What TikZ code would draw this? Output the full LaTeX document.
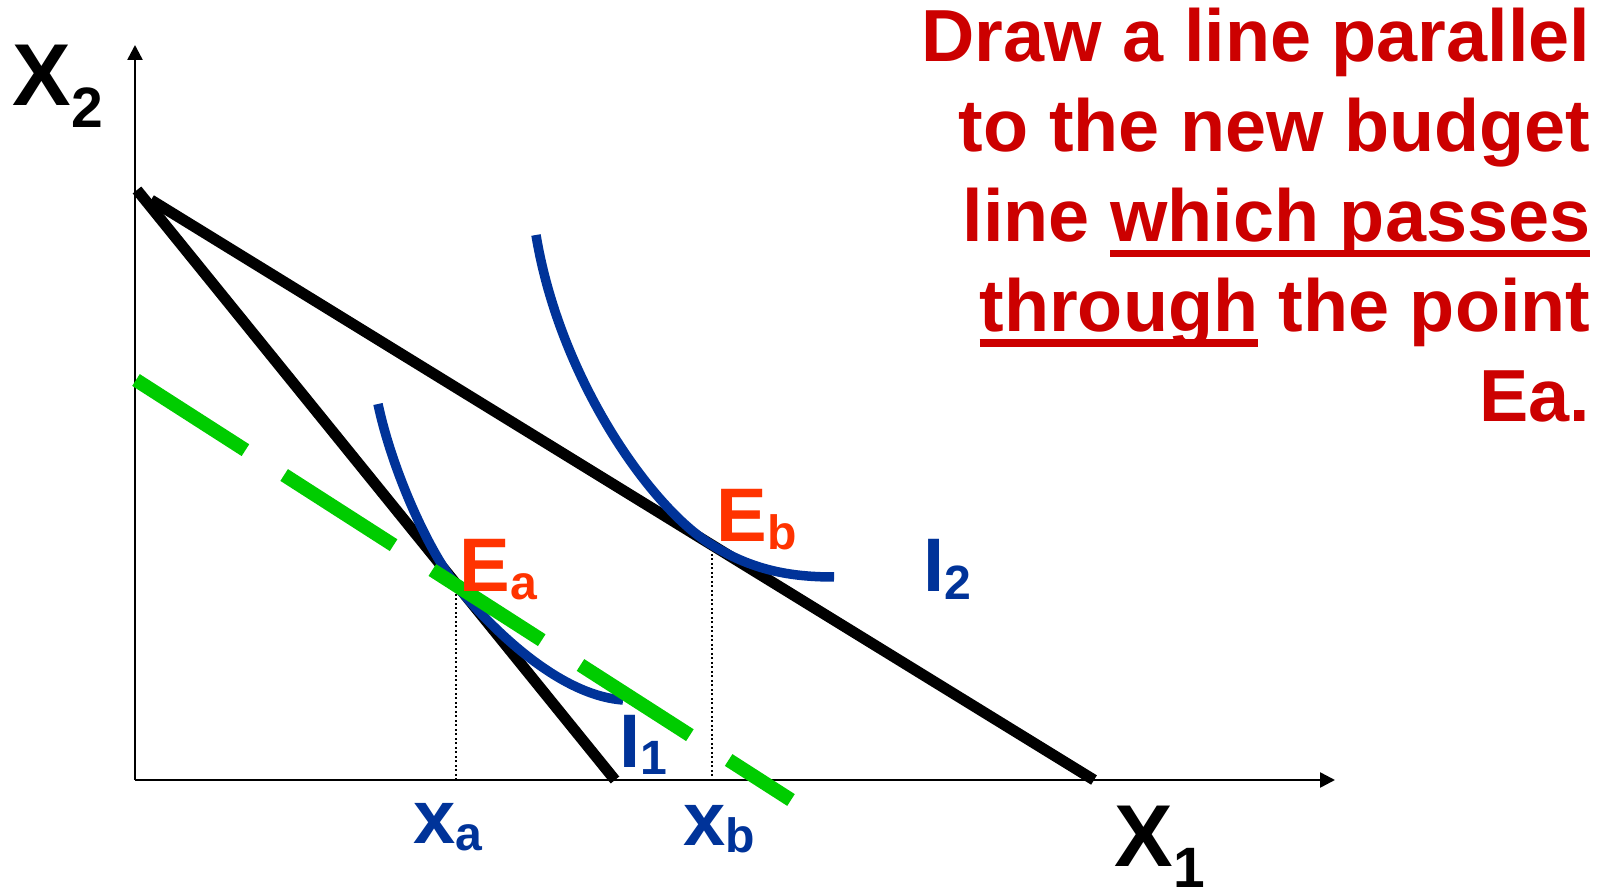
\documentclass[tikz,border=0pt]{standalone}
\usepackage{fontspec}
\setmainfont{Liberation Sans}
\usetikzlibrary{arrows.meta, positioning, calc}
\definecolor{titlered}{HTML}{CC0000}
\definecolor{pointred}{HTML}{FF3300}
\definecolor{curveblue}{HTML}{003399}
\definecolor{guidegreen}{HTML}{00CC00}
\newcommand{\axislabel}[2]{{\fontsize{25pt}{25pt}\selectfont #1}\raisebox{-6pt}{\fontsize{16.2pt}{16pt}\selectfont #2}}
\newcommand{\pointlabel}[2]{{\fontsize{21.6pt}{22pt}\selectfont #1}\raisebox{-2pt}{\fontsize{13.7pt}{14pt}\selectfont #2}}
\newcommand{\ulword}[1]{\setbox0\hbox{#1}\rlap{\rule[-4.4pt]{\wd0}{2.1pt}}\box0\relax}

\begin{document}
\begin{tikzpicture}[x=0.1mm, y=-0.1mm, font=\bfseries,
  axis/.style={line width=0.7pt, -{Triangle[length=1.5mm, width=1.5mm]}},
  budget/.style={line width=1.1mm},
  indiff/.style={curveblue, line width=0.95mm},
  guide/.style={guidegreen, line width=1.4mm, dash pattern=on 13mm off 4.6mm},
  drop/.style={line width=0.2mm, dash pattern=on 0.2mm off 0.25mm},
  lbl/.style={inner sep=0pt, anchor=base west},
  titleline/.style={titlered, inner sep=0pt, anchor=base east,
                    font=\bfseries\fontsize{21pt}{25.6pt}\selectfont}]
\useasboundingbox (0,0) rectangle (1601,892);
\coordinate (O) at (135,780);
\coordinate (ytip) at (135,45);
\coordinate (xtip) at (1335,780);
\coordinate (oldtop) at (137,190);
\coordinate (oldend) at (615,780);
\coordinate (newtop) at (151,200);
\coordinate (newend) at (1094,780);
\coordinate (Ea) at (456,585);
\coordinate (Eb) at (712,545);
\coordinate (xa) at (456,780);
\coordinate (xb) at (712,780);
\coordinate (guidetop) at (136,380);
\coordinate (guideend) at (791,800);

\draw[axis] (O) -- (ytip);
\draw[axis] (O) -- (xtip);
\draw[drop] (Ea) -- (xa);
\draw[drop] (Eb) -- (xb);
\draw[budget] (oldtop) -- (oldend);
\draw[budget] (newtop) -- (newend);
\draw[indiff] (378,404) .. controls (392,470) and (428,550) .. (Ea)
              .. controls (485,621) and (555,695) .. (623,700);
\draw[indiff] (536,235) .. controls (560,380) and (652,509) .. (Eb)
              .. controls (752,570) and (790,577) .. (834,577);
\draw[guide] (guidetop) -- (guideend);

\node[lbl] (ylab) at (12,106) {\axislabel{X}{2}};
\node[lbl] (xlab) at (1114,866) {\axislabel{X}{1}};
\node[lbl, pointred] (Ealab) at (459,592) {\pointlabel{E}{a}};
\node[lbl, pointred] (Eblab) at (716,542) {\pointlabel{E}{b}};
\node[lbl, curveblue] (I1lab) at (619,767) {\pointlabel{I}{1}};
\node[lbl, curveblue] (I2lab) at (923,592) {\pointlabel{I}{2}};
\node[lbl, curveblue] (xalab) at (413,843) {\pointlabel{x}{a}};
\node[lbl, curveblue] (xblab) at (683,845) {\pointlabel{x}{b}};

\foreach \txt [count=\i] in {Draw a line parallel, to the new budget,
    {line \ulword{which passes}}, {\ulword{through} the point}, Ea.}{
  \node[titleline] (title\i) at (1591, {62+89.8*(\i-1)}) {\txt};
}
\end{tikzpicture}
\end{document}
